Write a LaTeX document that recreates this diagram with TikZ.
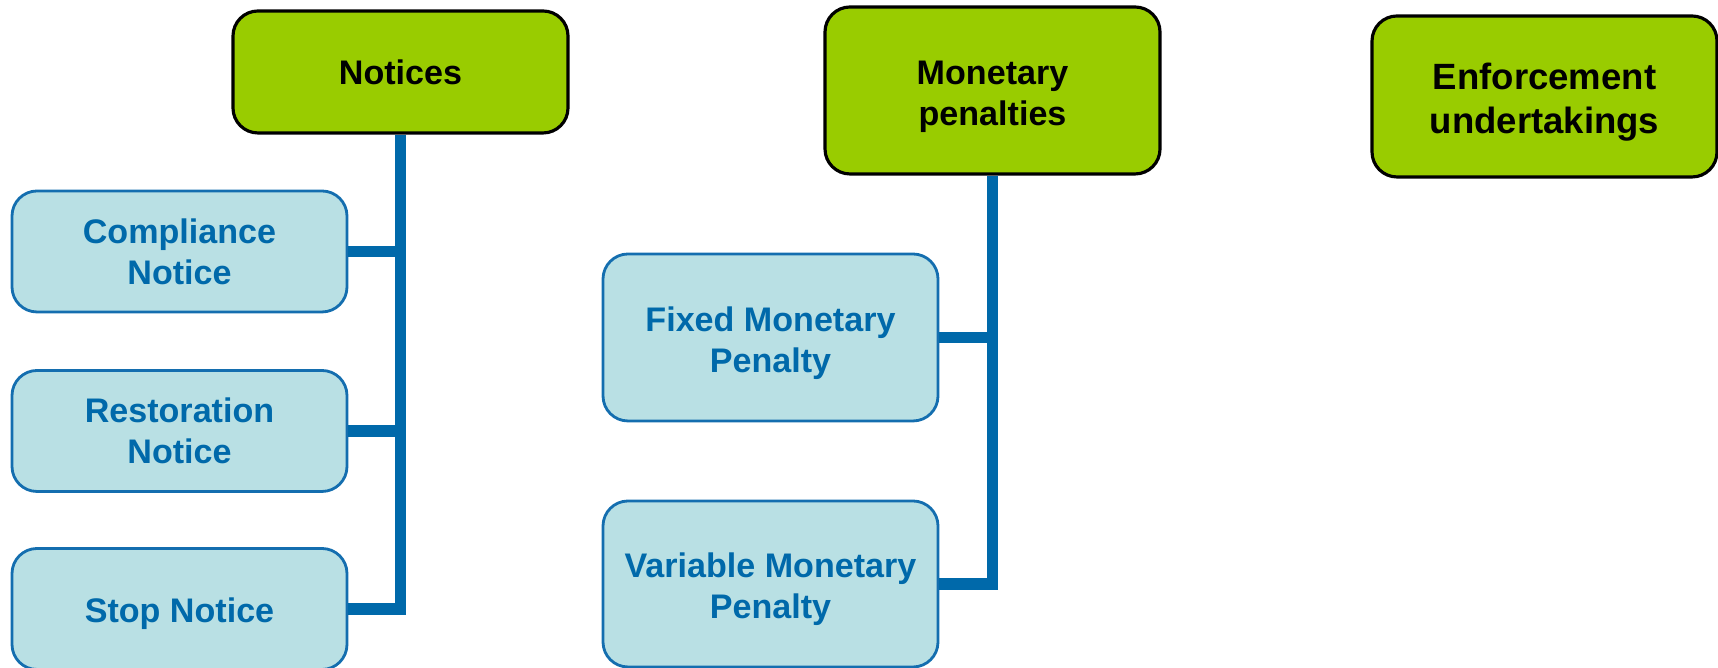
\documentclass[tikz,border=0pt]{standalone}
\usepackage{fontspec}
\setmainfont{Liberation Sans}
\usetikzlibrary{positioning}
\definecolor{headgreen}{RGB}{153,204,0}
\definecolor{itemfill}{RGB}{185,224,228}
\definecolor{itemline}{RGB}{20,110,175}
\definecolor{linkblue}{RGB}{0,105,170}
\newcommand{\dropstrut}[1]{\rule{0pt}{#1}}

\begin{document}
\begin{tikzpicture}
        [font=\fontsize{9.7}{11.6}\selectfont\bfseries,
        head/.style={fill=headgreen, draw=black, line width=0.9pt,
        rounded corners=0.25cm, minimum width=3.35cm, align=center},
        item/.style={fill=itemfill, draw=itemline, line width=0.8pt,
        rounded corners=0.25cm, minimum width=3.35cm, minimum height=1.21cm,
        text=linkblue, align=center},
        link/.style={draw=linkblue, line width=3.4pt}]
        \useasboundingbox (0,0) rectangle (17.18,6.68);
        % top row
        \node[head, minimum height=1.22cm] (notices) at (4.005,5.96) {Notices};
        \node[head, minimum height=1.67cm] (money) at (9.925,5.775)
            {\dropstrut{10.2pt}Monetary\\penalties};
        \node[head, minimum width=3.45cm, minimum height=1.61cm,
            font=\fontsize{10.4}{12.5}\selectfont\bfseries] (enf) at (15.445,5.715)
            {\dropstrut{10.8pt}Enforcement\\undertakings};
        % notices
        \node[item] (comp) at (1.795,4.165) {Compliance\\Notice};
        \node[item] (rest) at (1.795,2.37) {Restoration\\Notice};
        \node[item] (stop) at (1.795,0.59) {\dropstrut{9.5pt}Stop Notice};
        % penalties
        \node[item, minimum height=1.67cm] (fixed) at (7.705,3.305)
            {\dropstrut{10.2pt}Fixed Monetary\\Penalty};
        \node[item, minimum height=1.66cm] (var) at (7.705,0.84)
            {\dropstrut{10.2pt}Variable Monetary\\Penalty};
        % links
        \draw[link] (notices.south) |- (stop.east);
        \draw[link] (comp.east) -- (comp.east -| notices.south);
        \draw[link] (rest.east) -- (rest.east -| notices.south);
        \draw[link] (money.south) |- (var.east);
        \draw[link] (fixed.east) -- (fixed.east -| money.south);
\end{tikzpicture}
\end{document}
